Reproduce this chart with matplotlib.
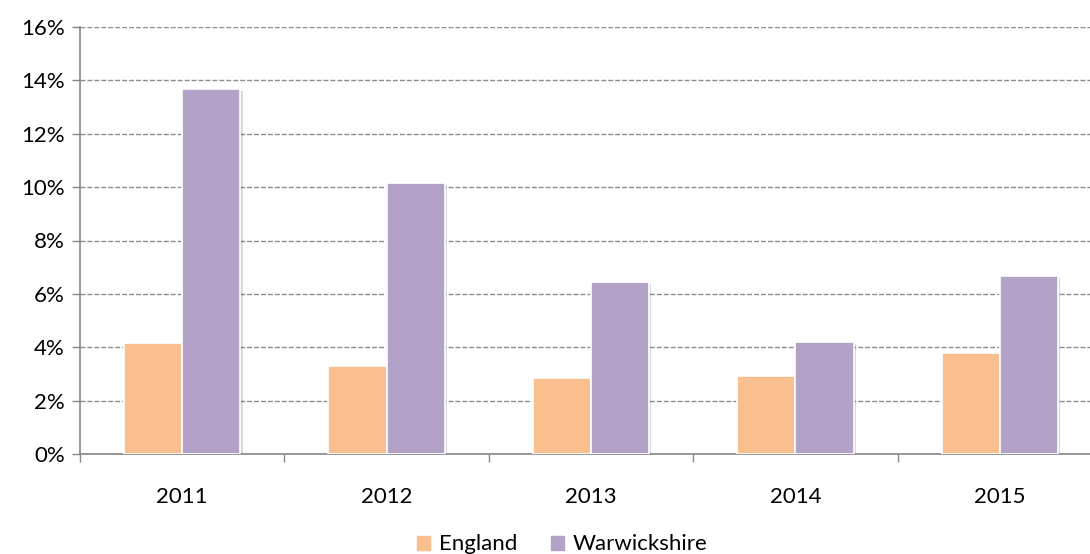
import matplotlib.pyplot as plt
import matplotlib.patheffects as pe
from matplotlib.patches import Patch
from matplotlib.ticker import FuncFormatter, MultipleLocator
import numpy as np

plt.rcParams['font.family'] = ['Lato', 'DejaVu Sans']

# Data
years = ['2011', '2012', '2013', '2014', '2015']
england = [4.16, 3.31, 2.84, 2.93, 3.78]
warwickshire = [13.67, 10.14, 6.43, 4.20, 6.67]

c_eng = '#F9BF8F'
c_war = '#B2A2C7'

fig = plt.figure(figsize=(10.9, 5.54), dpi=100)
ax = fig.add_axes([80 / 1090, 1 - 454 / 554, 1022 / 1090, 427 / 554])

x = np.arange(len(years))
w = 0.285
shadow = [pe.SimplePatchShadow(offset=(1.5, -1.5), alpha=0.18), pe.Normal()]
b1 = ax.bar(x - w / 2, england, w, color=c_eng, edgecolor='white',
            linewidth=1.2, zorder=3)
b2 = ax.bar(x + w / 2, warwickshire, w, color=c_war, edgecolor='white',
            linewidth=1.2, zorder=3)
for b in list(b1) + list(b2):
    b.set_path_effects(shadow)

ax.set_xlim(-0.5, len(years) - 0.5)
ax.set_ylim(0, 16)
ax.yaxis.set_major_locator(MultipleLocator(2))
ax.yaxis.set_major_formatter(FuncFormatter(lambda v, p: f"{v:.0f}%"))
ax.grid(axis='y', linestyle=(0, (3.5, 1.5)), color='#8C8C8C', linewidth=1, zorder=0)

ax.set_xticks(x)
ax.set_xticklabels(years)
ax.set_xticks(np.arange(-0.5, len(years)), minor=True)
ax.tick_params(axis='x', which='major', length=0, pad=24, labelsize=16)
ax.tick_params(axis='x', which='minor', length=6, color='#868686', width=1)
ax.tick_params(axis='y', length=6, color='#868686', width=1, labelsize=16, pad=5)

for s in ['top', 'right']:
    ax.spines[s].set_visible(False)
for s in ['left', 'bottom']:
    ax.spines[s].set_color('#868686')
    ax.spines[s].set_linewidth(1.2)

handles = [Patch(color=c_eng, label='England'), Patch(color=c_war, label='Warwickshire')]
fig.legend(handles=handles, loc='lower center', ncol=2, frameon=False,
           fontsize=16, handlelength=0.6, handleheight=0.6, handletextpad=0.4,
           columnspacing=1.5, bbox_to_anchor=(0.516, -0.037))

plt.savefig('out.png', dpi=100)
